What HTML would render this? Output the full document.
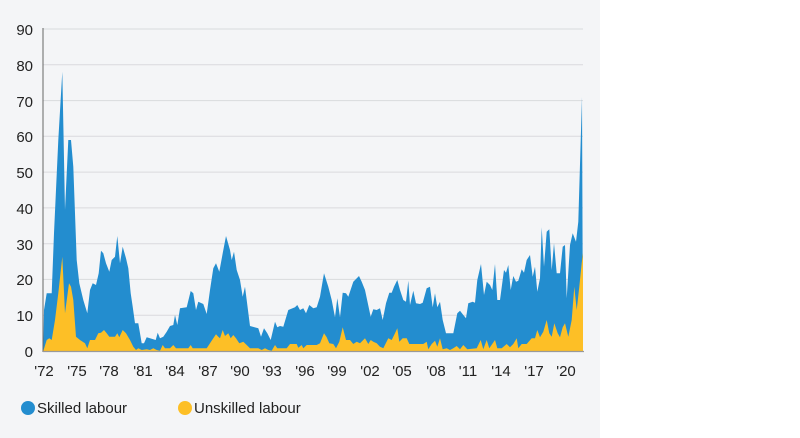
<!DOCTYPE html>
<html><head><meta charset="utf-8"><style>
body{margin:0;width:800px;height:438px;background:#fff;overflow:hidden}
svg{display:block}
text{font-family:"Liberation Sans",sans-serif;fill:#222}
</style></head><body>
<svg width="800" height="438" viewBox="0 0 800 438">
<rect x="0" y="0" width="600" height="438" fill="#f4f5f7"/>
<g stroke="#d9dadd" stroke-width="1">
<line x1="43" x2="583" y1="29" y2="29"/><line x1="43" x2="583" y1="64.8" y2="64.8"/><line x1="43" x2="583" y1="100.6" y2="100.6"/><line x1="43" x2="583" y1="136.3" y2="136.3"/><line x1="43" x2="583" y1="172.1" y2="172.1"/><line x1="43" x2="583" y1="207.9" y2="207.9"/><line x1="43" x2="583" y1="243.7" y2="243.7"/><line x1="43" x2="583" y1="279.4" y2="279.4"/><line x1="43" x2="583" y1="315.2" y2="315.2"/>
</g>
<path fill="#238dcf" d="M43.3,351 L44,310 46.7,293.3 51.7,293.3 54,233.3 58.3,140 62.3,71.7 65,210 68.3,140 71,140 73.3,166.7 76.7,260 79.3,283.3 83.3,300 87.3,313.3 90,290 92.7,283.3 96,285 98.7,273.3 101,250.7 103.3,253.3 106,263.3 109.3,271.7 111.7,260 115,256.7 117.3,236 120,263.3 122.7,246.7 126,258.3 128.3,268.3 130.7,293.3 132.7,306.7 135,323.3 138.3,323.3 141.7,343.3 144,343.3 146.7,337.3 150,338.3 153.3,339.3 155.7,340 157.7,332.7 160,338.3 163.3,336.7 166.7,331.7 170,326 173.3,325 175,315 177.3,325 180,308.3 186.7,307.3 190.7,291 193.3,293.3 196,310 198.3,301.7 203.3,304 206.7,314 210,290 213.3,268.3 216,263.3 219.3,271.7 222.7,253.3 226,236 230,250 231.7,260 234,251.7 236.7,270 240,280 242.7,296.7 245,286.7 250,326 258.3,328.3 261,336.7 264,328.3 267.3,333.3 270.7,340 275,321.7 277.3,327.3 280,326 283.3,326.7 288.3,310 295,307.3 297.3,305 300,310 303.3,308.3 306,313.3 309.3,305 313.3,308.3 316.7,307.3 320,296.7 324,273.3 328.3,286.7 331.7,300 335,317.3 337.3,298.3 340,317.3 342.7,292.7 346,293.3 348.3,296.7 353.3,281.7 359,276 361.7,281.7 365,290 370.7,316.7 373.3,309.3 376.7,310 380,308.3 382.7,320 386,303.3 389.3,292.7 391.7,292.7 394,286.7 397.3,280 400,290 403.3,300 406,301.7 408.3,280.7 410,305 413.3,290.7 416,303.3 420,304 422.7,302.7 426.7,288.3 430,286.7 432.7,307.3 435,293.3 437.3,307.3 440,301.7 442.7,320 446,333.3 453.3,333.3 457.3,313.3 460,310.7 463.3,315 466,318.3 468.3,303.3 472.7,301.7 475,302.7 477.3,280 481,264 484,295 486.7,281.7 490,285 492.3,290 495,264 497.3,300 500,300 504,270 506,272.7 508.3,265 510.7,290 513.3,276 516,281.7 518.3,280.7 521.7,269.3 524,272.7 526.7,260 530,255 532.7,276.7 535,266.7 537.3,291.7 540,278.3 541.7,227.3 544,266.7 546.7,231.7 549.3,229.3 551.7,270 554,243.3 556.7,273.3 560,273.3 562.7,246.7 565,245 566.7,298.3 570,245 572.7,233.3 576,241.7 578.3,221.7 582,97 583,351 Z"/>
<path fill="#fdbf26" d="M43.3,351 L46.7,340 49.3,338.3 51.7,340 55,320 58.3,293.3 62.3,256.7 65,313.3 69,283.3 71,286.7 73.3,300 76,336.7 80,340 85,343.3 87.3,348.3 90,340 95,340 98.3,333.3 101,332.7 104,330 106.7,333.3 109.3,336.7 115,336.7 117.3,333.3 119.3,337.3 122.7,330 126,333.3 130,340 133.3,346.7 136,350 138.3,348.3 141.7,350 146.7,349.3 150,350 153.3,348.3 156.7,350 160,350.7 162.7,345 165,348.3 170,348.3 173.3,345 176,348.3 180,348.3 188.3,348.3 190.7,345 192.7,348.3 206.7,348.3 210,343.3 213.3,338.3 216,334.3 218.3,336.7 220,338.3 222.7,330 225,336 228.3,333.3 230.7,338.3 233.3,335 236,338.3 239.3,343.3 243.3,341.7 246.7,345 250,348.3 258.3,348.3 261.7,350 265,348.3 268.3,350 271.7,350.7 275,345 277.3,348.3 286.7,348.3 290,344 296.7,344 298.3,347.7 301.7,345 303.3,348.3 306.7,345 311.7,345 316.7,345 320,343.3 324,333.3 326.7,337.3 329.3,343.3 333.3,344 336,348.3 339.3,341.7 342.7,327.3 346,340 350,340 353.3,344 356.7,341.7 360,343.3 365,338.3 368.3,344 370.7,340 373.3,341.7 376.7,343.3 380,346.7 383.3,348.3 388.3,338.3 391.7,340 395,333.3 397.3,328.3 399.3,341.7 402.7,338.3 406.7,338.3 409.3,344 423.3,344 426.7,341.7 428.3,349.3 431.7,344 435,340.7 437.3,346.7 440,338.3 442.7,349.3 446.7,348.3 450,350 453.3,348.3 456.7,346 460,349.3 463.3,345 467.3,349.3 476.7,348.3 480.7,340 483.3,349.3 486.7,340 489.3,348.3 495,340 497.3,348.3 501.7,348.3 506.7,344 510,347.3 513.3,344 516.7,338.3 518.3,348.3 521.7,344 526.7,344 531.7,338.3 535,338.3 537.3,330 540,337.3 543.3,331.7 546.7,320 549.3,333.3 551.7,336.7 554.3,323.3 557.7,333.3 560,337.3 562.7,327.3 565,323.3 568.3,336.7 571.7,320 574.3,286.7 576.7,310 579.3,286.7 581.7,263.3 583,253 583,351 Z"/>
<line x1="43" x2="43" y1="28" y2="352" stroke="#666" stroke-width="1"/>
<line x1="43" x2="584" y1="351.5" y2="351.5" stroke="#999" stroke-width="1.2"/>
<g font-size="15" text-anchor="end">
<text x="33" y="35">90</text><text x="33" y="71">80</text><text x="33" y="107">70</text><text x="33" y="142">60</text><text x="33" y="178">50</text><text x="33" y="214">40</text><text x="33" y="250">30</text><text x="33" y="285">20</text><text x="33" y="321">10</text><text x="33" y="357">0</text>
</g>
<g font-size="15" text-anchor="middle">
<text x="44" y="376">'72</text><text x="77" y="376">'75</text><text x="109" y="376">'78</text><text x="143" y="376">'81</text><text x="175" y="376">'84</text><text x="208" y="376">'87</text><text x="240" y="376">'90</text><text x="272" y="376">'93</text><text x="305" y="376">'96</text><text x="337" y="376">'99</text><text x="370" y="376">'02</text><text x="402" y="376">'05</text><text x="436" y="376">'08</text><text x="468" y="376">'11</text><text x="501" y="376">'14</text><text x="534" y="376">'17</text><text x="566" y="376">'20</text>
</g>
<circle cx="28" cy="408" r="7" fill="#238dcf"/>
<text x="37" y="413" font-size="15">Skilled labour</text>
<circle cx="185" cy="408" r="7" fill="#fdbf26"/>
<text x="194" y="413" font-size="15">Unskilled labour</text>
</svg>
</body></html>
